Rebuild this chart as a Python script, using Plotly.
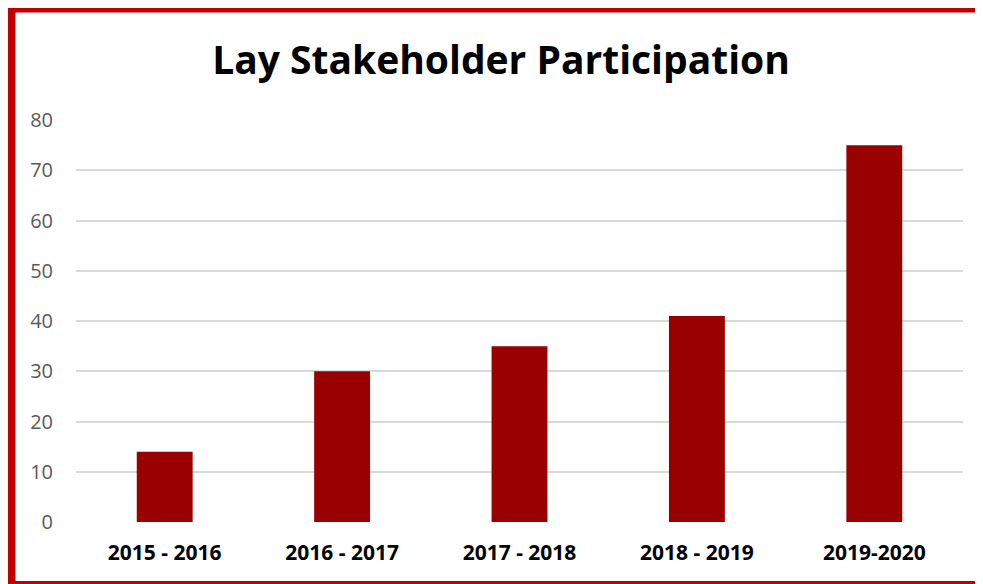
import plotly.graph_objects as go

categories = ["2015 - 2016", "2016 - 2017", "2017 - 2018", "2018 - 2019", "2019-2020"]
values = [14, 30, 35, 41, 75]
y_ticks = [0, 10, 20, 30, 40, 50, 60, 70, 80]

# page has an 8px body margin, so the figure is sized to fit the window
W, H = 975, 576
L, R, T, B = 68, 20, 112, 62
pw, ph = W - L - R, H - T - B

def px_x(x):
    return (x - L) / pw

def px_y(y):
    return (H - B - y) / ph

fig = go.Figure(go.Bar(
    x=categories, y=values, width=0.315,
    marker=dict(color="#990000", line=dict(width=0)),
))

fig.update_layout(
    width=W, height=H,
    margin=dict(l=L, r=R, t=T, b=B),
    paper_bgcolor="white", plot_bgcolor="white",
    title=dict(text="<b>Lay Stakeholder Participation</b>", x=493 / W, xref="container",
               xanchor="center", y=1 - 52 / H, yanchor="middle",
               font=dict(family="Open Sans", size=39, color="black")),
    showlegend=False,
    xaxis=dict(tickfont=dict(family="Open Sans", size=21, color="black", weight="bold"),
               showgrid=False, zeroline=False, showline=False, ticks="",
               ticklabelstandoff=16),
    yaxis=dict(range=[0, 80], tickvals=y_ticks, showgrid=True, gridcolor="#d9d9d9",
               gridwidth=1.5, zeroline=False, showline=False, ticks="",
               tickfont=dict(family="Open Sans", size=20, color="#595959"),
               ticklabelstandoff=22),
    shapes=[dict(type="rect", xref="paper", yref="paper",
                 x0=px_x(3.5), x1=px_x(990), y0=px_y(577), y1=px_y(0.5),
                 line=dict(color="#C00000", width=8), fillcolor="rgba(0,0,0,0)",
                 layer="above")],
)

fig.write_html("out.html")
